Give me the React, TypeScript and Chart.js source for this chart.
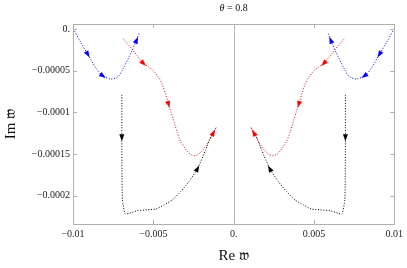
import React, { useEffect, useRef } from "react";
import { Chart, registerables } from "chart.js";

Chart.register(...registerables);

const titleVar = "θ";
const titleRest = " = 0.8";
const xLabel = "Re 𝔴";
const yLabel = "Im 𝔴";

const xTicks = [-0.01, -0.005, 0, 0.005, 0.01];
const xTickLabels = ["−0.01", "−0.005", "0.", "0.005", "0.01"];
const yTicks = [0, -0.00005, -0.0001, -0.00015, -0.0002];
const yTickLabels = ["0.", "−0.00005", "−0.0001", "−0.00015", "−0.0002"];

// curves listed in flow order [Re, Im]
const blueLeft: [number, number][] = [
  [-0.00998, 0], [-0.0095, -0.0000168], [-0.00909, -0.00003], [-0.00857, -0.000047],
  [-0.00816, -0.000056], [-0.00764, -0.00006], [-0.0072, -0.000057], [-0.00692, -0.000049],
  [-0.0064, -0.000029], [-0.00605, -0.0000137], [-0.00588, -0.000005],
];
const blueRight: [number, number][] = [
  [0.00998, 0], [0.0095, -0.0000168], [0.00909, -0.00003], [0.00857, -0.000047],
  [0.00816, -0.000056], [0.00764, -0.00006], [0.0072, -0.000057], [0.00692, -0.000049],
  [0.0064, -0.000029], [0.00605, -0.0000137], [0.00588, -0.000005],
];
const blueArrows = [2, 4, 9];

const redLeft: [number, number][] = [
  [-0.00687, -0.0000117], [-0.00625, -0.000026], [-0.00563, -0.0000409], [-0.00526, -0.000046],
  [-0.00495, -0.000051], [-0.00464, -0.000059], [-0.00443, -0.000067], [-0.00422, -0.000079],
  [-0.00406, -0.00009], [-0.00391, -0.000099], [-0.00371, -0.000111], [-0.0035, -0.000125],
  [-0.00329, -0.000135], [-0.00302, -0.000143], [-0.00278, -0.000149], [-0.00247, -0.000152],
  [-0.00216, -0.00015], [-0.00174, -0.000141], [-0.00127, -0.000125], [-0.00108, -0.000118],
];
const redRight: [number, number][] = [
  [0.00687, -0.0000117], [0.00625, -0.000026], [0.00563, -0.0000409], [0.00526, -0.000046],
  [0.00495, -0.000051], [0.00464, -0.000059], [0.00443, -0.000067], [0.00422, -0.000079],
  [0.00406, -0.00009], [0.00391, -0.000099], [0.00371, -0.000111], [0.0035, -0.000125],
  [0.00329, -0.000135], [0.00302, -0.000143], [0.00278, -0.000149], [0.00247, -0.000152],
  [0.00216, -0.00015], [0.00174, -0.000141], [0.00127, -0.000125], [0.00108, -0.000118],
];
const redArrows = [2, 8, 18];

const blackLeft: [number, number][] = [
  [-0.00696, -0.000079], [-0.00696, -0.00013], [-0.00695, -0.000175], [-0.00692, -0.000205],
  [-0.00675, -0.000222], [-0.0065, -0.000221], [-0.00599, -0.000218], [-0.00537, -0.000217],
  [-0.00484, -0.000216], [-0.00433, -0.000211], [-0.00381, -0.000205], [-0.00329, -0.000195],
  [-0.00278, -0.000183], [-0.00226, -0.000168], [-0.00174, -0.000145], [-0.00141, -0.000129],
  [-0.00108, -0.000118],
];
const blackRight: [number, number][] = [
  [0.00696, -0.000079], [0.00696, -0.00013], [0.00695, -0.000175], [0.00692, -0.000205],
  [0.00675, -0.000222], [0.0065, -0.000221], [0.00599, -0.000218], [0.00537, -0.000217],
  [0.00484, -0.000216], [0.00433, -0.000211], [0.00381, -0.000205], [0.00329, -0.000195],
  [0.00278, -0.000183], [0.00226, -0.000168], [0.00174, -0.000145], [0.00141, -0.000129],
  [0.00108, -0.000118],
];
const blackArrows = [1, 13];

const FONT = "'Liberation Serif', 'DejaVu Serif', serif";

function ds(points: [number, number][], color: string, arrows: number[], tension: number) {
  return {
    data: points.map(([x, y]) => ({ x, y })),
    borderColor: color,
    backgroundColor: color,
    borderWidth: 1,
    borderDash: [1, 1.7],
    showLine: true,
    pointRadius: 0,
    tension,
    arrows,
  } as any;
}

const framePlugin = {
  id: "framePlugin",
  beforeDatasetsDraw(chart: any) {
    const { ctx, chartArea: a, scales } = chart;
    ctx.save();
    const x0 = scales.x.getPixelForValue(0);
    ctx.strokeStyle = "#b8b8b8";
    ctx.lineWidth = 1;
    ctx.beginPath();
    ctx.moveTo(Math.round(x0) + 0.5, a.top);
    ctx.lineTo(Math.round(x0) + 0.5, a.bottom);
    ctx.stroke();
    ctx.restore();
  },
  afterDatasetsDraw(chart: any) {
    const { ctx, chartArea: a, scales } = chart;
    ctx.save();
    chart.data.datasets.forEach((d: any, di: number) => {
      const meta = chart.getDatasetMeta(di);
      (d.arrows || []).forEach((i: number) => {
        const p = meta.data[i];
        const q = meta.data[Math.min(i + 1, meta.data.length - 1)];
        const r = meta.data[Math.max(i - 1, 0)];
        const ang = Math.atan2(q.y - r.y, q.x - r.x);
        ctx.save();
        ctx.translate(p.x, p.y);
        ctx.rotate(ang);
        ctx.fillStyle = d.borderColor;
        ctx.beginPath();
        ctx.moveTo(4, 0);
        ctx.lineTo(-3, -2.5);
        ctx.lineTo(-3, 2.5);
        ctx.closePath();
        ctx.fill();
        ctx.restore();
      });
    });
    ctx.strokeStyle = "#b0b0b0";
    ctx.lineWidth = 1;
    ctx.strokeRect(Math.round(a.left) + 0.5, Math.round(a.top) + 0.5, Math.round(a.right - a.left), Math.round(a.bottom - a.top));
    ctx.beginPath();
    xTicks.forEach((v) => {
      const px = Math.round(scales.x.getPixelForValue(v)) + 0.5;
      ctx.moveTo(px, a.bottom);
      ctx.lineTo(px, a.bottom - 4);
      ctx.moveTo(px, a.top);
      ctx.lineTo(px, a.top + 4);
    });
    yTicks.forEach((v) => {
      const py = Math.round(scales.y.getPixelForValue(v)) + 0.5;
      ctx.moveTo(a.left, py);
      ctx.lineTo(a.left + 4, py);
      ctx.moveTo(a.right, py);
      ctx.lineTo(a.right - 4, py);
    });
    ctx.stroke();
    ctx.fillStyle = "#111";
    ctx.textBaseline = "middle";
    const cx = (a.left + a.right) / 2;
    // title with italic theta
    ctx.font = `italic 10px ${FONT}`;
    const w1 = ctx.measureText(titleVar).width;
    ctx.font = `10px ${FONT}`;
    const w2 = ctx.measureText(titleRest).width;
    const sx = cx - (w1 + w2) / 2;
    ctx.textAlign = "left";
    ctx.font = `italic 10px ${FONT}`;
    ctx.fillText(titleVar, sx, 8);
    ctx.font = `10px ${FONT}`;
    ctx.fillText(titleRest, sx + w1, 8);
    ctx.textAlign = "center";
    ctx.font = `15px ${FONT}`;
    ctx.fillText(xLabel, cx, 256);
    ctx.save();
    ctx.translate(11, (a.top + a.bottom) / 2);
    ctx.rotate(-Math.PI / 2);
    ctx.fillText(yLabel, 0, 0);
    ctx.restore();
    ctx.restore();
  },
};

export default function App() {
  const ref = useRef<HTMLCanvasElement>(null);
  useEffect(() => {
    document.body.style.margin = "0";
    const chart = new Chart(ref.current!, {
      type: "scatter",
      data: {
        datasets: [
          ds(blueLeft, "#0000ff", blueArrows, 0.3),
          ds(blueRight, "#0000ff", blueArrows, 0.3),
          ds(redLeft, "#ff0000", redArrows, 0.3),
          ds(redRight, "#ff0000", redArrows, 0.3),
          ds(blackLeft, "#000000", blackArrows, 0.2),
          ds(blackRight, "#000000", blackArrows, 0.2),
        ],
      },
      options: {
        animation: false,
        responsive: false,
        maintainAspectRatio: false,
        layout: { padding: { top: 24, right: 12, left: 0, bottom: 0 } },
        plugins: { legend: { display: false }, tooltip: { enabled: false }, title: { display: false } },
        scales: {
          x: {
            type: "linear",
            min: -0.01,
            max: 0.01,
            grid: { display: false, drawTicks: false },
            border: { display: false },
            afterBuildTicks: (s: any) => { s.ticks = xTicks.map((v) => ({ value: v })); },
            afterFit: (s: any) => { s.height = 44; },
            ticks: {
              padding: 4,
              color: "#222",
              font: { family: FONT, size: 10 },
              callback: (v: any) => { const i = xTicks.findIndex((t) => Math.abs(t - v) < 1e-9); return i >= 0 ? xTickLabels[i] : ""; },
              maxRotation: 0,
              autoSkip: false,
            },
          },
          y: {
            type: "linear",
            min: -0.000234,
            max: 0.000006,
            grid: { display: false, drawTicks: false },
            border: { display: false },
            afterBuildTicks: (s: any) => { s.ticks = yTicks.map((v) => ({ value: v })); },
            afterFit: (s: any) => { s.width = 73; },
            ticks: {
              padding: 3,
              color: "#222",
              font: { family: FONT, size: 10 },
              callback: (v: any) => { const i = yTicks.findIndex((t) => Math.abs(t - v) < 1e-12); return i >= 0 ? yTickLabels[i] : ""; },
              autoSkip: false,
            },
          },
        },
      },
      plugins: [framePlugin],
    });
    return () => chart.destroy();
  }, []);
  return (
    <div style={{ width: 407, height: 268, position: "relative" }}>
      <canvas ref={ref} width={407} height={268} style={{ width: 407, height: 268 }} />
    </div>
  );
}
